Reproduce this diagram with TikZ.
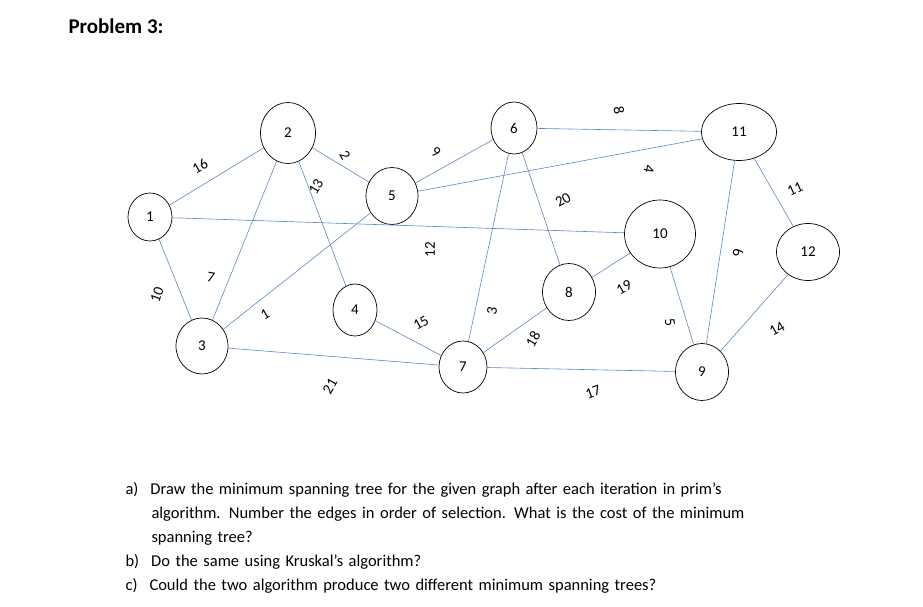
\documentclass[tikz,border=0pt]{standalone}
\usepackage{fontspec}
\setmainfont{Carlito}
\usetikzlibrary{shapes.geometric}
\definecolor{edgeblue}{RGB}{91,135,200}
\begin{document}
\begin{tikzpicture}[x=1pt,y=1pt,
 v/.style={draw,ellipse,line width=0.7pt,inner sep=0pt,font=\fontsize{15}{17}\selectfont},
 e/.style={draw=edgeblue,line width=0.6pt},
 w/.style={font=\fontsize{15}{17}\selectfont,inner sep=1pt}]
\useasboundingbox (0,0) rectangle (923,-607);
\node[anchor=west,font=\fontsize{21}{24}\selectfont\bfseries] (t) at (65,-26) {Problem 3:};
\node[v,minimum width=44,minimum height=48] (n1) at (150,-217) {1};
\node[v,minimum width=55,minimum height=61] (n2) at (288,-133) {2};
\node[v,minimum width=52,minimum height=56] (n3) at (202,-346) {3};
\node[v,minimum width=44,minimum height=52] (n4) at (355,-310) {4};
\node[v,minimum width=52,minimum height=57] (n5) at (392,-196) {5};
\node[v,minimum width=46,minimum height=52] (n6) at (514,-128) {6};
\node[v,minimum width=48,minimum height=52] (n7) at (463,-367) {7};
\node[v,minimum width=53,minimum height=57] (n8) at (569,-292) {8};
\node[v,minimum width=53,minimum height=57] (n9) at (702,-372) {9};
\node[v,minimum width=71,minimum height=68] (n10) at (660,-234) {10};
\node[v,minimum width=75,minimum height=57] (n11) at (739,-132) {11};
\node[v,minimum width=63,minimum height=57] (n12) at (808,-252) {12};
\draw[e] (n1)--(n2); \draw[e] (n1)--(n3); \draw[e] (n1)--(n10);
\draw[e] (n2)--(n3); \draw[e] (n2)--(n4); \draw[e] (n2)--(n5);
\draw[e] (n3)--(n5); \draw[e] (n3)--(n7); \draw[e] (n4)--(n7);
\draw[e] (n5)--(n6); \draw[e] (n5)--(n11); \draw[e] (n6)--(n11);
\draw[e] (n6)--(n7); \draw[e] (n6)--(n8); \draw[e] (n7)--(n8);
\draw[e] (n7)--(n9); \draw[e] (n8)--(n10); \draw[e] (n10)--(n9);
\draw[e] (n11)--(n9); \draw[e] (n11)--(n12); \draw[e] (n12)--(n9);
\node[w,rotate=30] (l16) at (200,-166) {16};
\node[w,rotate=70] (l10) at (157,-295) {10};
\node[w,rotate=-10] (l7) at (211,-277) {7};
\node[w,rotate=60] (l13) at (316,-187) {13};
\node[w,rotate=-60] (l2) at (345,-155) {2};
\node[w,rotate=-30] (l9) at (436,-152) {9};
\node[w,rotate=30] (l1) at (265,-314) {1};
\node[w,rotate=90] (l12) at (430,-250) {12};
\node[w,rotate=30] (l15) at (421,-323) {15};
\node[w,rotate=60] (l21) at (330,-386) {21};
\node[w,rotate=80] (l3) at (492,-311) {3};
\node[w,rotate=30] (l20) at (563,-200) {20};
\node[w,rotate=60] (l18) at (533,-339) {18};
\node[w,rotate=-80] (l8) at (619,-110) {8};
\node[w,rotate=-100] (l4) at (649,-169) {4};
\node[w,rotate=30] (l19) at (624,-287) {19};
\node[w,rotate=20] (l17) at (593,-392) {17};
\node[w,rotate=-80] (l5) at (670,-322) {5};
\node[w,rotate=-80] (l6) at (738,-252) {6};
\node[w,rotate=25] (l11) at (795,-189) {11};
\node[w,rotate=30] (l14) at (777,-329) {14};
\node[anchor=north west,align=left,text width=760,font=\fontsize{16.5}{24}\selectfont] (q) at (122,-479) {%
a)\hspace{12pt}Draw the minimum spanning tree for the given graph after each iteration in prim’s\\
\hspace*{26pt}algorithm. Number the edges in order of selection. What is the cost of the minimum\\
\hspace*{26pt}spanning tree?\\
b)\hspace{12pt}Do the same using Kruskal’s algorithm?\\
c)\hspace{12pt}Could the two algorithm produce two different minimum spanning trees?};
\end{tikzpicture}
\end{document}
